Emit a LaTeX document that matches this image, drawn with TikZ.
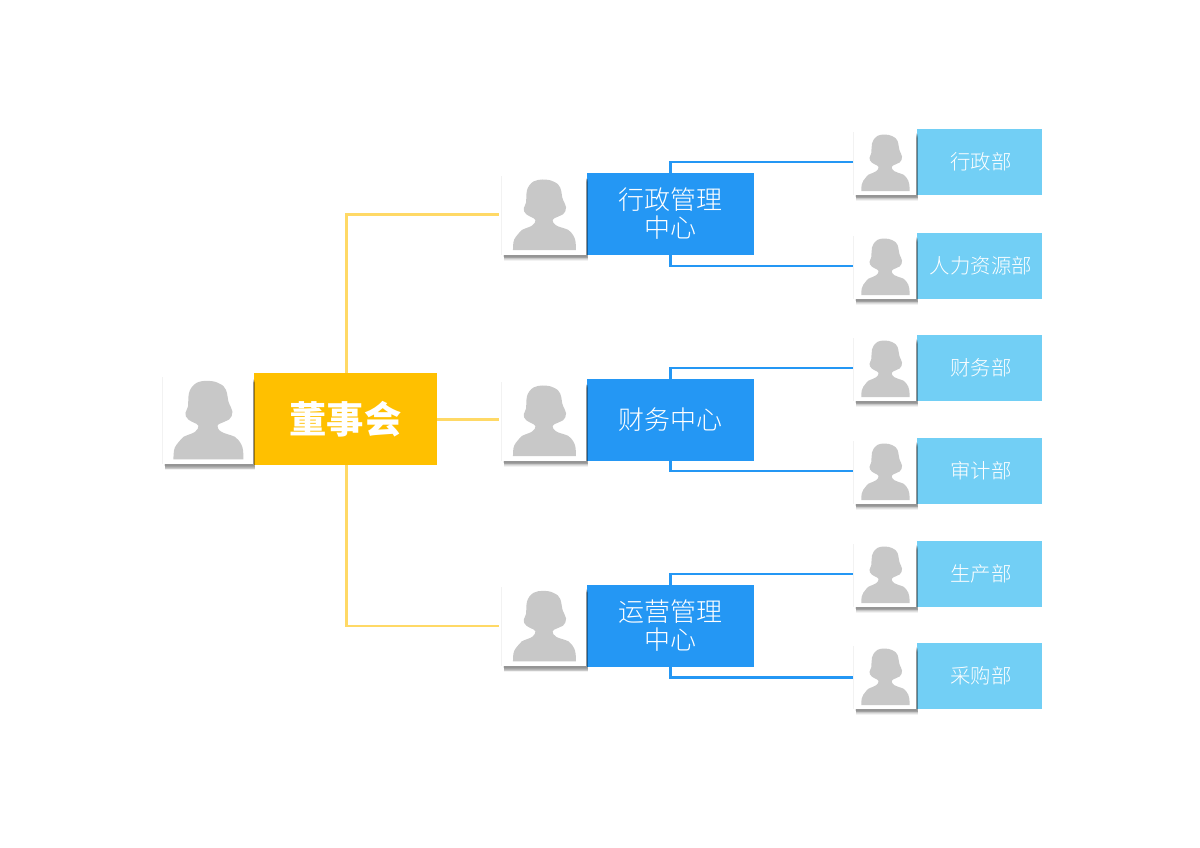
\documentclass[tikz,border=0pt]{standalone}
\usepackage{fontspec}
\setmainfont{Noto Sans CJK SC}
\newfontfamily\thincjk{Noto Sans CJK SC Light}
\usetikzlibrary{positioning,shadows}

\tikzset{
  person/.pic={
    \fill[personfill] (-35,38.5) .. controls (-35,31) and (-34.5,27) .. (-32,24)
      .. controls (-29,20) and (-27,18) .. (-25,16)
      .. controls (-20,13.5) and (-16,13) .. (-13.5,11)
      .. controls (-11,9) and (-10,7.5) .. (-10,5)
      .. controls (-10.5,4) and (-11,3.5) .. (-12,3)
      .. controls (-15,1.5) and (-18,0.5) .. (-20,-1.2)
      .. controls (-22.5,-3) and (-23.5,-6) .. (-23,-8)
      .. controls (-22.5,-10) and (-21,-12) .. (-20.5,-14.3)
      .. controls (-20,-18) and (-20.5,-23) .. (-19.5,-27.7)
      .. controls (-18.5,-32) and (-15.5,-36) .. (-11.8,-38)
      .. controls (-9,-39.5) and (-5,-40) .. (-2,-40)
      .. controls (2,-40) and (7,-39.5) .. (10,-37.7)
      .. controls (14,-36) and (16.5,-34) .. (17.5,-31)
      .. controls (19.5,-26) and (19,-21) .. (20.5,-17.7)
      .. controls (21.5,-15) and (23.5,-12) .. (24,-9.3)
      .. controls (24.5,-6) and (22.5,-3) .. (20.5,-1.2)
      .. controls (17.5,0.5) and (14,1.5) .. (11,3)
      .. controls (10,3.5) and (9,4) .. (9,5)
      .. controls (9,7.5) and (10,9) .. (13,11)
      .. controls (16,13) and (21,13.5) .. (26.5,16)
      .. controls (29,18) and (31,20) .. (33,24)
      .. controls (34.5,27) and (35,31) .. (35,38.5) -- cycle;
  }
}

\definecolor{boardfill}{HTML}{FFC000}
\definecolor{boardline}{HTML}{FFD966}
\definecolor{centerfill}{HTML}{2497F4}
\definecolor{deptfill}{HTML}{72CFF5}
\definecolor{personfill}{HTML}{C8C8C8}

\begin{document}
\begin{tikzpicture}[x=0.75pt,y=-0.75pt,
  personfill/.style={fill=personfill},
  photo/.style={rectangle,fill=white,inner sep=0pt,
    general shadow={shadow xshift=-1pt,shadow yshift=0pt,fill=black,opacity=.05},
    general shadow={shadow xshift=1.5pt,shadow yshift=-4.4pt,fill=black,opacity=.05},
    general shadow={shadow xshift=1.4pt,shadow yshift=-3.8pt,fill=black,opacity=.08},
    general shadow={shadow xshift=1.3pt,shadow yshift=-3.2pt,fill=black,opacity=.1},
    general shadow={shadow xshift=1.1pt,shadow yshift=-2.6pt,fill=black,opacity=.1},
    general shadow={shadow xshift=1pt,shadow yshift=-2pt,fill=black,opacity=.1},
    general shadow={shadow xshift=.7pt,shadow yshift=-1.2pt,fill=black,opacity=.08}},
  boardpic/.style={photo,minimum width=67.5pt,minimum height=65.25pt},
  centerpic/.style={photo,minimum width=63pt,minimum height=59.25pt},
  deptpic/.style={photo,minimum width=46.5pt,minimum height=47.5pt},
  board/.style={rectangle,fill=boardfill,text=white,inner sep=0pt,minimum width=137.25pt,
    minimum height=69pt,font=\fontsize{28pt}{30pt}\bfseries},
  center/.style={rectangle,fill=centerfill,text=white,inner sep=0pt,minimum width=125.25pt,
    minimum height=61.5pt,align=center,font=\thincjk\fontsize{19.5pt}{21pt}\selectfont},
  dept/.style={rectangle,fill=deptfill,text=white,inner sep=0pt,minimum width=93.75pt,
    minimum height=49.5pt,font=\thincjk\fontsize{15.3pt}{18pt}\selectfont,
    execute at begin node=\hspace*{2pt}},
  goldline/.style={draw=boardline,line width=2.1pt,shorten >=2.6pt},
  blueline/.style={draw=centerfill,line width=2.1pt,shorten >=1.2pt}]

  \useasboundingbox (0,0) rectangle (1200,848);

  \node[board] (top) at (345.5,419) {董事会};
  \node[center] (admin) at (670.5,214) {行政管理\\中心};
  \node[center] (finance) at (670.5,420) {财务中心};
  \node[center] (ops) at (670.5,626) {运营管理\\中心};

  \node[dept] (d1) at (979.5,162) {行政部};
  \node[dept] (d2) at (979.5,266) {人力资源部};
  \node[dept] (d3) at (979.5,368) {财务部};
  \node[dept] (d4) at (979.5,471) {审计部};
  \node[dept] (d5) at (979.5,574) {生产部};
  \node[dept] (d6) at (979.5,676) {采购部};

  \node[boardpic,above left=0.5pt and 0pt of top.south west] (toppic) {};
  \node[centerpic,above left=0pt and 0pt of admin.south west] (adminpic) {};
  \node[centerpic,above left=0pt and 0pt of finance.south west] (financepic) {};
  \node[centerpic,above left=0.5pt and 0pt of ops.south west] (opspic) {};
  \node[deptpic,above left=0pt and 0pt of d1.south west] (d1pic) {};
  \node[deptpic,above left=0pt and 0pt of d2.south west] (d2pic) {};
  \node[deptpic,above left=0pt and 0pt of d3.south west] (d3pic) {};
  \node[deptpic,above left=0pt and 0pt of d4.south west] (d4pic) {};
  \node[deptpic,above left=0pt and 0pt of d5.south west] (d5pic) {};
  \node[deptpic,above left=0pt and 0pt of d6.south west] (d6pic) {};

  \pic at (toppic) {person};
  \pic[scale=.9] at (adminpic) {person};
  \pic[scale=.9] at (financepic) {person};
  \pic[scale=.9] at (opspic) {person};
  \foreach \n in {d1pic,d2pic,d3pic,d4pic,d5pic,d6pic}
    \pic[xscale=.69,yscale=.72] at (\n) {person};

  \draw[goldline] ([xshift=.75pt]top.north) |- ([yshift=-.5pt]admin.west -| adminpic.west);
  \draw[goldline] ([yshift=-.4pt]top.east) -- ([yshift=-.4pt]top.east -| financepic.west);
  \draw[goldline] ([xshift=.75pt]top.south) |- (ops.west -| opspic.west);

  \draw[blueline] (admin.north) |- (d1.west -| d1pic.west);
  \draw[blueline] (admin.south) |- (d2.west -| d2pic.west);
  \draw[blueline] (finance.north) |- (d3.west -| d3pic.west);
  \draw[blueline] (finance.south) |- (d4.west -| d4pic.west);
  \draw[blueline] (ops.north) |- (d5.west -| d5pic.west);
  \draw[blueline] (ops.south) |- (d6pic.west);
\end{tikzpicture}
\end{document}
